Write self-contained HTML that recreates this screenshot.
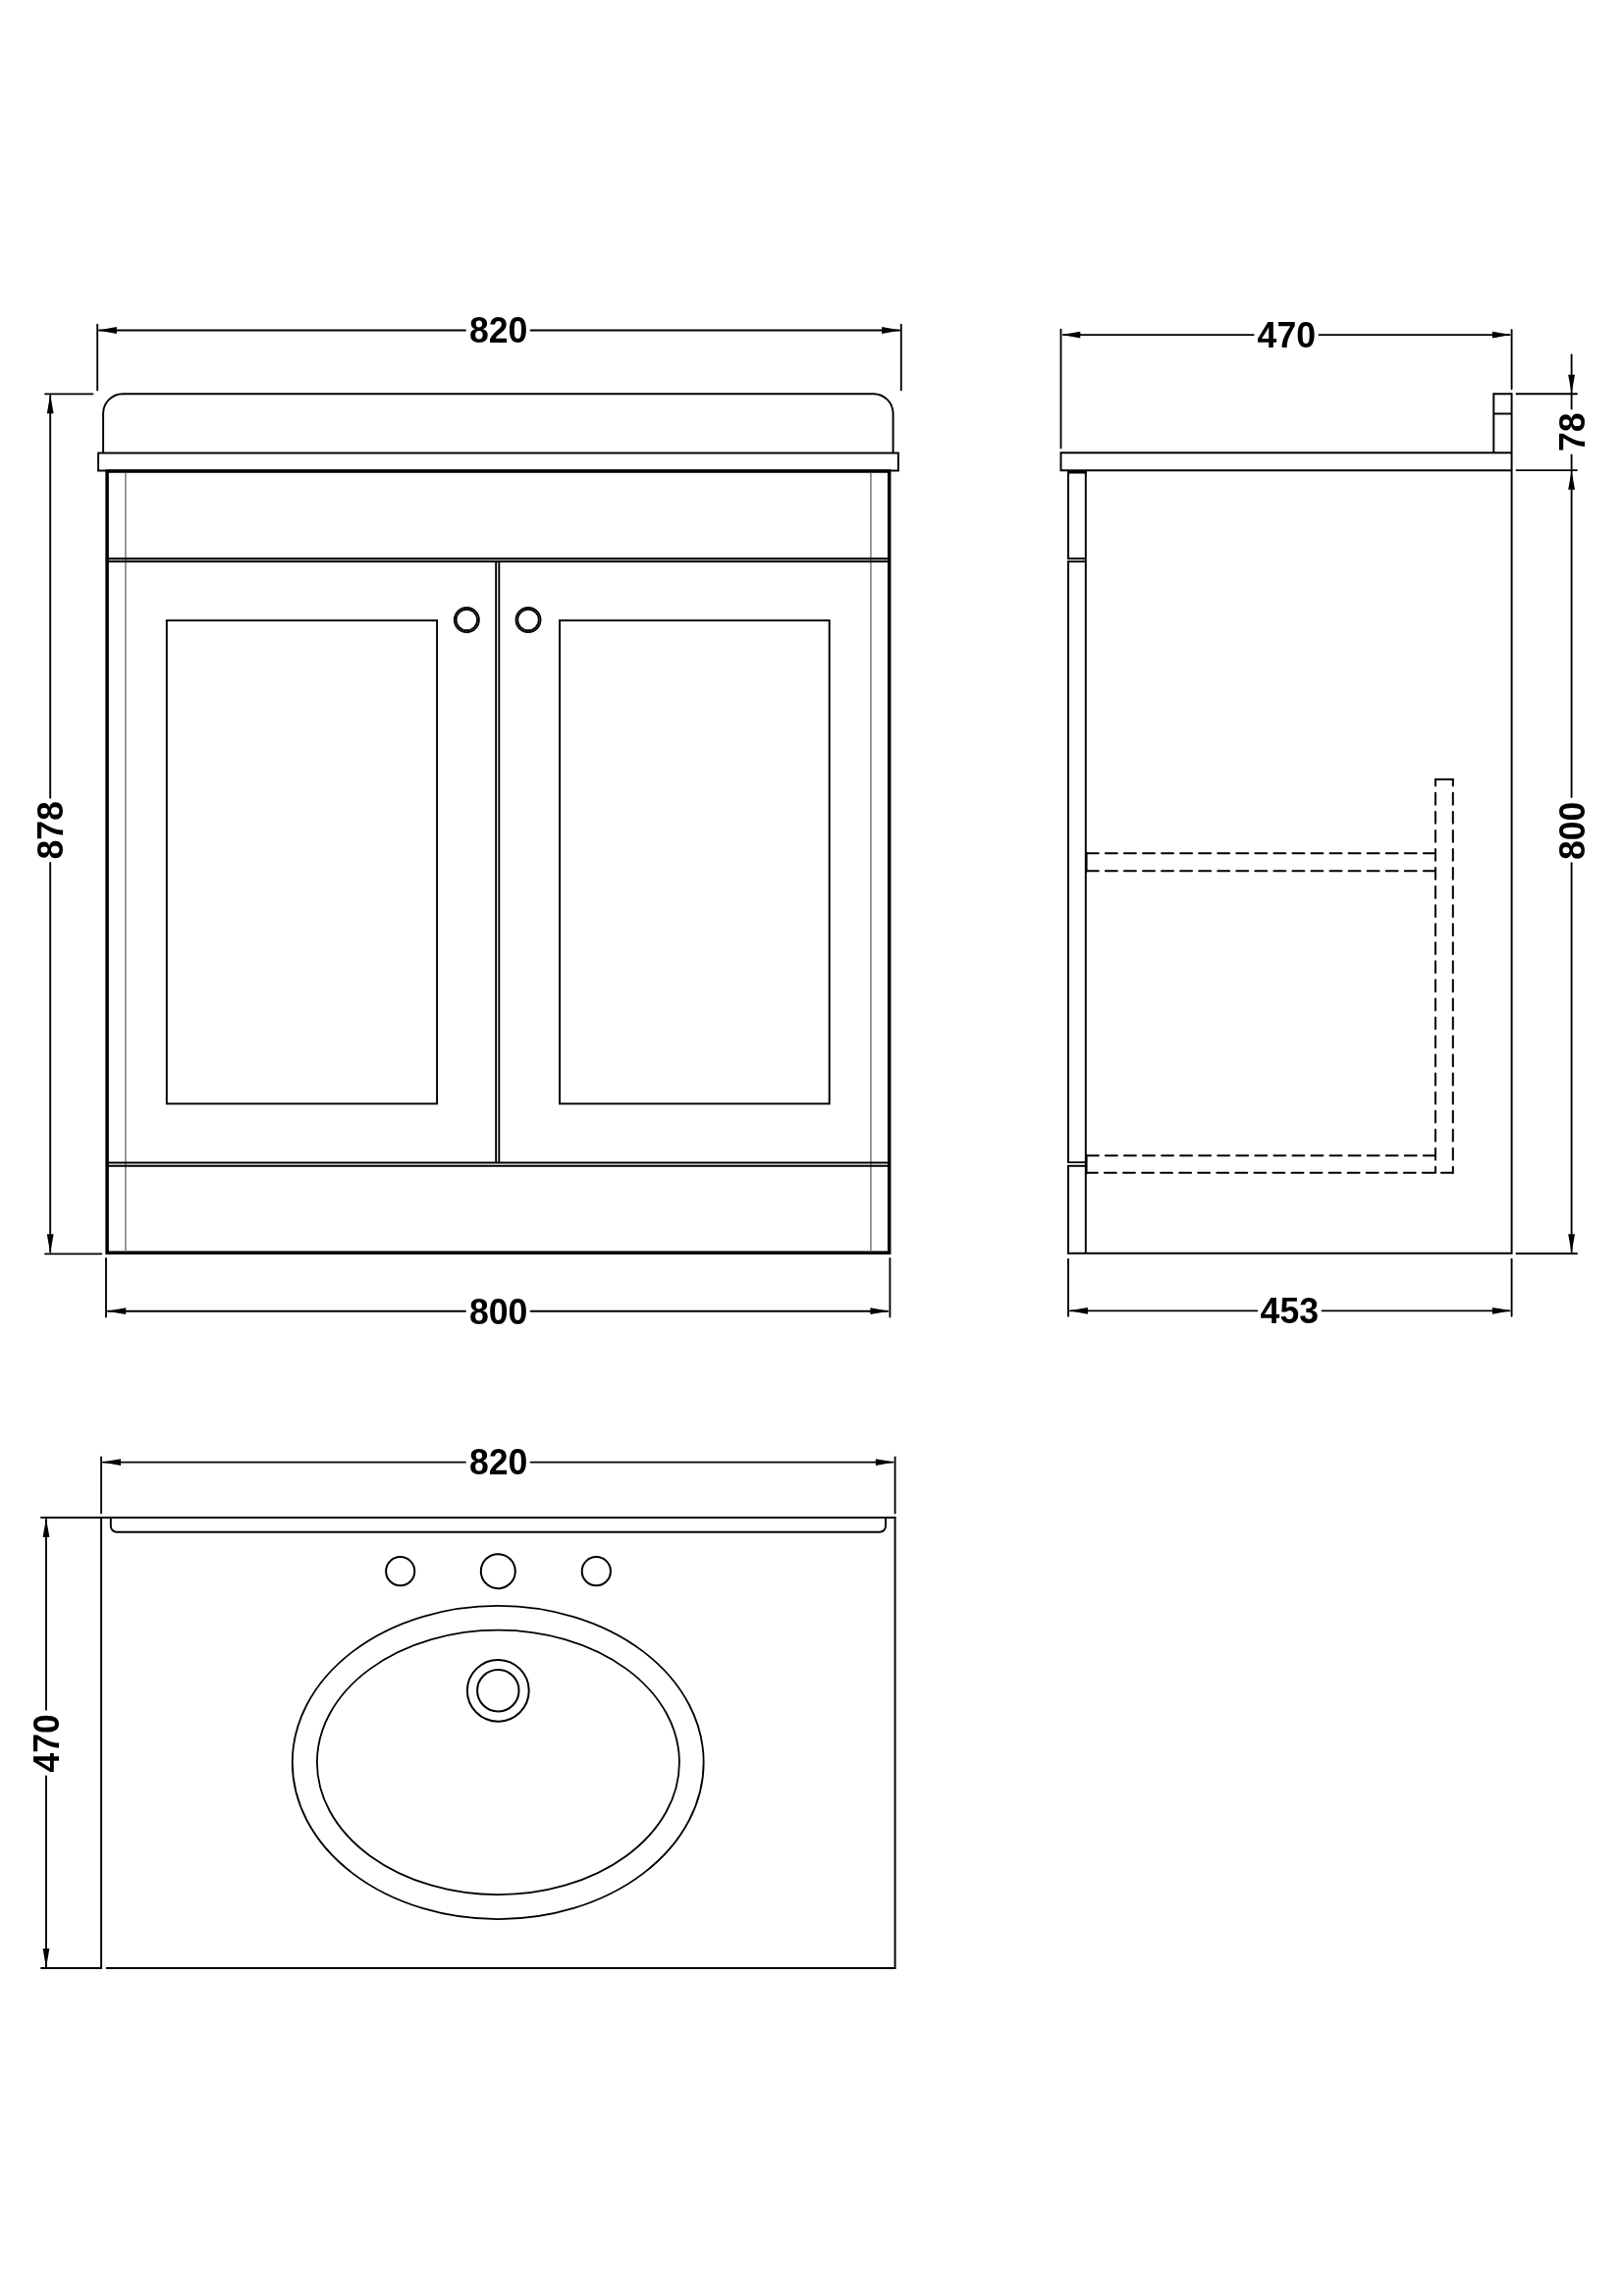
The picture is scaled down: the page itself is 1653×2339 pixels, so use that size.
<!DOCTYPE html>
<html lang="en"><head><meta charset="utf-8"><title>Vanity unit technical drawing</title>
<style>
html,body{margin:0;padding:0;background:#fff;}
body{width:1653px;height:2339px;overflow:hidden;}
svg{display:block;will-change:transform;}
.l{stroke:#000;stroke-width:1.95;fill:none;stroke-linecap:butt;}
.d{stroke:#000;stroke-width:1.85;fill:none;stroke-linecap:round;}
.k{stroke:#000;stroke-width:3.5;fill:none;stroke-linejoin:miter;}
.g{stroke:#8e8e8e;stroke-width:1.8;fill:none;}
.n{stroke:#000;stroke-width:1.8;fill:none;}
.c{stroke:#000;stroke-width:2;fill:none;}
.v{stroke:#000;stroke-width:1.9;fill:none;}
.h{stroke:#000;stroke-width:2;fill:none;stroke-linecap:round;stroke-dasharray:11.9 7.15;}
.hv{stroke:#000;stroke-width:2;fill:none;stroke-linecap:round;stroke-dasharray:11.8 7.25;stroke-dashoffset:5.2;}
.ar{fill:#000;stroke:none;}
.t{font-family:"Liberation Sans",sans-serif;font-weight:700;font-size:37.7px;fill:#000;text-anchor:middle;}
</style></head><body>
<svg role="img" aria-label="Vanity unit dimension drawing: front, side and plan views" width="1653" height="2339" viewBox="0 0 1653 2339">
<rect x="0" y="0" width="1653" height="2339" fill="#fff"/>

<g id="front">
<line class="d" x1="99.2" y1="330.6" x2="99.2" y2="397.4"/>
<line class="d" x1="917.8" y1="330.6" x2="917.8" y2="397.4"/>
<line class="d" x1="101" y1="336.5" x2="474" y2="336.5"/>
<line class="d" x1="540.5" y1="336.5" x2="916" y2="336.5"/>
<polygon class="ar" points="99.6,336.5 118.9,333.1 118.9,339.9"/>
<polygon class="ar" points="917.4,336.5 898.1,333.1 898.1,339.9"/>
<text class="t" transform="translate(507.7,349.3) scale(0.945,1)">820</text>
<line class="d" x1="46" y1="401.3" x2="94.5" y2="401.3"/>
<line class="d" x1="46" y1="1277.3" x2="103.3" y2="1277.3"/>
<line class="d" x1="51.2" y1="403" x2="51.2" y2="812.8"/>
<line class="d" x1="51.2" y1="879" x2="51.2" y2="1275.5"/>
<polygon class="ar" points="51.2,402 47.8,421.3 54.6,421.3"/>
<polygon class="ar" points="51.2,1276.6 47.8,1257.3 54.6,1257.3"/>
<text class="t" transform="translate(63.8,845.8) rotate(-90) scale(0.945,1)">878</text>
<path class="l" d="M105.1,461.5 V421.3 A20,20 0 0 1 125.1,401.3 H889.6 A20,20 0 0 1 909.6,421.3 V461.5"/>
<rect class="l" x="100.1" y="461.5" width="814.8" height="18"/>
<rect class="k" x="109.1" y="480" width="796.6" height="796.2"/>
<line class="g" x1="127.9" y1="482" x2="127.9" y2="1274.5"/>
<line class="g" x1="886.9" y1="482" x2="886.9" y2="1274.5"/>
<line class="l" style="stroke-width:2.3" x1="109" y1="569.05" x2="906" y2="569.05"/>
<line class="l" style="stroke-width:2" x1="109" y1="572.1" x2="906" y2="572.1"/>
<line class="l" style="stroke-width:2" x1="109" y1="1184.6" x2="906" y2="1184.6"/>
<line class="l" style="stroke-width:2" x1="109" y1="1187.8" x2="906" y2="1187.8"/>
<line class="v" x1="505.15" y1="572.1" x2="505.15" y2="1184.6"/>
<line class="v" x1="508.3" y1="572.1" x2="508.3" y2="1184.6"/>
<circle class="l" style="stroke-width:1.8" cx="475.35" cy="631.5" r="12.55"/>
<circle class="l" style="stroke-width:1.8" cx="475.35" cy="631.5" r="10.75"/>
<circle class="l" style="stroke-width:1.8" cx="538.0" cy="631.5" r="12.55"/>
<circle class="l" style="stroke-width:1.8" cx="538.0" cy="631.5" r="10.75"/>
<rect class="l" x="169.8" y="632.1" width="275.3" height="492.3"/>
<rect class="l" x="570" y="632.1" width="274.7" height="492.3"/>
<line class="d" x1="108" y1="1282" x2="108" y2="1341.5"/>
<line class="d" x1="906.4" y1="1282" x2="906.4" y2="1341.5"/>
<line class="d" x1="110" y1="1335.7" x2="474" y2="1335.7"/>
<line class="d" x1="540.5" y1="1335.7" x2="904" y2="1335.7"/>
<polygon class="ar" points="108.9,1335.7 128.2,1332.3 128.2,1339.1"/>
<polygon class="ar" points="905.7,1335.7 886.4,1332.3 886.4,1339.1"/>
<text class="t" transform="translate(507.7,1349.0) scale(0.945,1)">800</text>
</g>
<g id="side">
<line class="d" x1="1080.5" y1="335.6" x2="1080.5" y2="456.4"/>
<line class="d" x1="1539.6" y1="336.2" x2="1539.6" y2="396.2"/>
<line class="d" x1="1083" y1="341.1" x2="1276.7" y2="341.1"/>
<line class="d" x1="1343.5" y1="341.1" x2="1537.5" y2="341.1"/>
<polygon class="ar" points="1081,341.1 1100.3,337.7 1100.3,344.5"/>
<polygon class="ar" points="1539.2,341.1 1519.9,337.7 1519.9,344.5"/>
<text class="t" transform="translate(1310.3,354.2) scale(0.945,1)">470</text>
<path class="l" d="M1539.6,461.2 H1080.5 V479.2 H1539.6"/>
<path class="l" d="M1521.3,461.2 V401.2 H1539.6"/>
<line class="l" x1="1521.3" y1="421.5" x2="1539.6" y2="421.5"/>
<path class="l" d="M1539.6,400.2 V1276.8 H1087"/>
<path class="l" d="M1088,480.9 H1105.8 V1276.8"/>
<line class="l" style="stroke-width:2.6" x1="1087" y1="481.2" x2="1106.8" y2="481.2"/>
<path class="l" d="M1088,480.9 V568.9 H1105.8"/>
<path class="l" d="M1105.8,572 H1088 V1184.1 H1105.8"/>
<path class="l" d="M1105.8,1187.8 H1088 V1276.8"/>
<path class="h" d="M1106.9,869.3 H1462"/>
<path class="h" d="M1106.9,887.3 H1462"/>
<line class="l" x1="1106.6" y1="868.3" x2="1106.6" y2="888.3"/>
<line class="l" x1="1106.6" y1="1176.2" x2="1106.6" y2="1195.8"/>
<path class="h" d="M1106.9,1177.2 H1462"/>
<path class="h" d="M1479.8,1194.8 H1106"/>
<path class="hv" d="M1462,794 V1194.8"/>
<path class="hv" d="M1479.8,794 V1194.8"/>
<line class="l" x1="1461" y1="794" x2="1480.8" y2="794"/>
<line class="d" x1="1544.5" y1="401.2" x2="1606" y2="401.2"/>
<line class="d" x1="1544.5" y1="479.1" x2="1606" y2="479.1"/>
<line class="d" x1="1544.5" y1="1277.0" x2="1606" y2="1277.0"/>
<line class="d" x1="1600.6" y1="361.5" x2="1600.6" y2="416.6"/>
<line class="d" x1="1600.6" y1="463.4" x2="1600.6" y2="812.1"/>
<line class="d" x1="1600.6" y1="879.2" x2="1600.6" y2="1275"/>
<polygon class="ar" points="1600.6,401.0 1597.2,381.7 1604.0,381.7"/>
<polygon class="ar" points="1600.6,479.4 1597.2,498.7 1604.0,498.7"/>
<polygon class="ar" points="1600.6,1276.6 1597.2,1257.3 1604.0,1257.3"/>
<text class="t" transform="translate(1613.5,440.3) rotate(-90) scale(0.945,1)">78</text>
<text class="t" transform="translate(1613.6,846.3) rotate(-90) scale(0.945,1)">800</text>
<line class="d" x1="1088" y1="1282.6" x2="1088" y2="1340.7"/>
<line class="d" x1="1539.6" y1="1282.6" x2="1539.6" y2="1340.7"/>
<line class="d" x1="1090" y1="1335.3" x2="1280.4" y2="1335.3"/>
<line class="d" x1="1346.5" y1="1335.3" x2="1537.5" y2="1335.3"/>
<polygon class="ar" points="1088.6,1335.3 1107.9,1331.9 1107.9,1338.7"/>
<polygon class="ar" points="1539.2,1335.3 1519.9,1331.9 1519.9,1338.7"/>
<text class="t" transform="translate(1313.3,1347.7) scale(0.945,1)">453</text>
</g>
<g id="plan">
<line class="d" x1="103.1" y1="1484.4" x2="103.1" y2="1541.5"/>
<line class="d" x1="911.6" y1="1484.4" x2="911.6" y2="1541.5"/>
<line class="d" x1="105" y1="1489.6" x2="474" y2="1489.6"/>
<line class="d" x1="540.5" y1="1489.6" x2="909.5" y2="1489.6"/>
<polygon class="ar" points="103.7,1489.6 123.0,1486.2 123.0,1493.0"/>
<polygon class="ar" points="911.2,1489.6 891.9,1486.2 891.9,1493.0"/>
<text class="t" transform="translate(507.7,1502.3) scale(0.945,1)">820</text>
<path class="d" d="M42,1546 H911.6"/>
<path class="l" d="M107.9,2005 H911.6 V1545"/>
<path class="l" d="M103.1,1546 V2006"/>
<path class="d" d="M42,2005 H103.1"/>
<path class="l" d="M112.8,1546 V1554.8 A6,6 0 0 0 118.8,1560.8 H896 A6,6 0 0 0 902,1554.8 V1546"/>
<line class="d" x1="47" y1="1548" x2="47" y2="1741.8"/>
<line class="d" x1="47" y1="1809.4" x2="47" y2="2003.5"/>
<polygon class="ar" points="47,1546.8 43.6,1566.1 50.4,1566.1"/>
<polygon class="ar" points="47,2004.4 43.6,1985.1 50.4,1985.1"/>
<text class="t" transform="translate(59.8,1775.9) rotate(-90) scale(0.945,1)">470</text>
<circle class="c" cx="407.7" cy="1600.7" r="14.6"/>
<circle class="c" cx="507.3" cy="1600.7" r="17.5"/>
<circle class="c" cx="607.3" cy="1600.7" r="14.6"/>
<ellipse class="n" cx="507.2" cy="1795.5" rx="209.45" ry="159.6"/>
<ellipse class="n" cx="507.4" cy="1795.4" rx="184.5" ry="134.75"/>
<circle class="c" cx="507.3" cy="1722.3" r="31.4"/>
<circle class="c" cx="507.3" cy="1722.3" r="21.2"/>
</g>
</svg>
</body></html>
